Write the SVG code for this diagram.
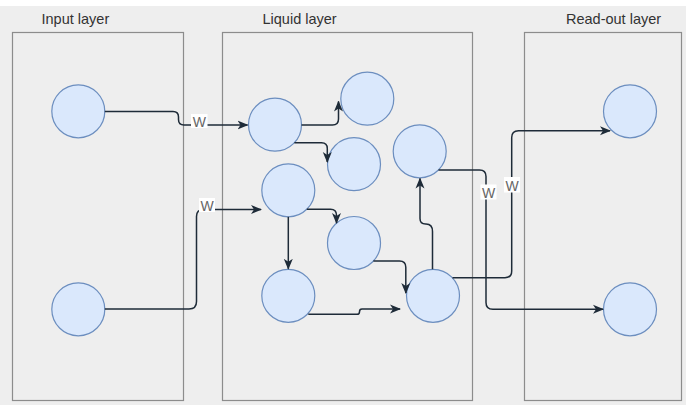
<svg xmlns="http://www.w3.org/2000/svg" width="686" height="405" viewBox="0 0 686 405">
<defs>
<style>
.layer{fill:#eeeeee;stroke:#8c8c8c;stroke-width:1.2}
.title{font-family:"Liberation Sans",Arial,sans-serif;font-size:14.5px;fill:#333333}
.node{fill:#dae8fc;stroke:#6c8ebf;stroke-width:1.2}
.edge{fill:none;stroke:#1e2b38;stroke-width:1.5;marker-end:url(#arr)}
.lblbg{fill:#ffffff}
.lbl{font-family:"Liberation Sans",Arial,sans-serif;font-size:14px;fill:#666666;text-anchor:middle}
</style>
<marker id="arr" viewBox="0 0 11 10" refX="10" refY="5" markerWidth="11" markerHeight="10" markerUnits="userSpaceOnUse" orient="auto">
<path d="M0,0.5 L11,5 L0,9.5 L3,5 Z" fill="#1e2b38"/>
</marker>
</defs>
<rect x="0" y="0" width="686" height="405" fill="#eeeeee"/>
<rect x="0" y="0" width="686" height="6" fill="#ffffff"/>

<g id="input-layer">
<rect class="layer" x="12.5" y="32.5" width="171" height="368"/>
<text class="title" x="41.5" y="24">Input layer</text>
</g>
<g id="liquid-layer">
<rect class="layer" x="222.5" y="32.5" width="250" height="368"/>
<text class="title" x="262.5" y="24">Liquid layer</text>
</g>
<g id="readout-layer">
<rect class="layer" x="524.5" y="32.5" width="157" height="368"/>
<text class="title" x="566" y="24">Read-out layer</text>
</g>

<g id="in1"><ellipse class="node" cx="78.3" cy="111.3" rx="26.5" ry="26.5"/></g>
<g id="in2"><ellipse class="node" cx="78.3" cy="309.3" rx="26.5" ry="26.5"/></g>
<g id="liqA"><ellipse class="node" cx="275" cy="124.7" rx="26.5" ry="26.5"/></g>
<g id="liqB"><ellipse class="node" cx="367.3" cy="98.7" rx="26.5" ry="26.5"/></g>
<g id="liqC"><ellipse class="node" cx="354" cy="164.2" rx="26.5" ry="26.5"/></g>
<g id="liqD"><ellipse class="node" cx="419.7" cy="151.3" rx="26.5" ry="26.5"/></g>
<g id="liqE"><ellipse class="node" cx="288.3" cy="190.3" rx="26.5" ry="26.5"/></g>
<g id="liqF"><ellipse class="node" cx="354" cy="243" rx="26.5" ry="26.5"/></g>
<g id="liqG"><ellipse class="node" cx="288.3" cy="295.8" rx="26.5" ry="26.5"/></g>
<g id="liqH"><ellipse class="node" cx="433" cy="295.8" rx="26.5" ry="26.5"/></g>
<g id="out1"><ellipse class="node" cx="630" cy="111.3" rx="26.5" ry="26.5"/></g>
<g id="out2"><ellipse class="node" cx="630" cy="309.3" rx="26.5" ry="26.5"/></g>

<g id="connectors">
<path class="edge" d="M104.8,111.5 H173 Q178.5,111.5 178.5,117 V119.5 Q178.5,125 184,125 H247.5"/>
<path class="edge" d="M104.8,309 H189 Q196.5,309 196.5,301.5 V216.5 Q196.5,209.5 203.5,209.5 H261"/>
<path class="edge" d="M301.5,125 H332.5 Q338.5,125 338.5,119 V101.5"/>
<path class="edge" d="M294.4,142.7 H321.5 Q327.3,142.7 327.3,148.5 V162"/>
<path class="edge" d="M306.8,209.3 H330.5 Q336.5,209.3 336.5,215.3 V223"/>
<path class="edge" d="M288.3,216.8 V268.8"/>
<path class="edge" d="M308.3,314.3 H357 Q359.5,314.3 359.5,311.7 Q359.5,309 362,309 H400"/>
<path class="edge" d="M373.4,261 H399.5 Q405.8,261 405.8,267.3 V293"/>
<path class="edge" d="M432.5,269.3 V231.5 Q432.5,224 426,224 H425.5 Q420,224 420,218.5 V178.5"/>
<path class="edge" d="M438.5,170 H479.5 Q486,170 486,176.5 V302.5 Q486,309.3 492.8,309.3 H603"/>
<path class="edge" d="M452.5,277.7 H505 Q511.7,277.7 511.7,271 V137.5 Q511.7,130.7 518.5,130.7 H610"/>
<rect class="lblbg" x="191" y="114" width="16.5" height="14"/>
<text class="lbl" x="199.3" y="126.5">W</text>
<rect class="lblbg" x="199" y="198" width="16" height="14"/>
<text class="lbl" x="207" y="210.5">W</text>
<rect class="lblbg" x="480.5" y="184.5" width="16" height="15"/>
<text class="lbl" x="488.5" y="197.5">W</text>
<rect class="lblbg" x="504" y="177" width="16" height="15.5"/>
<text class="lbl" x="512" y="190.5">W</text>
</g>
</svg>
